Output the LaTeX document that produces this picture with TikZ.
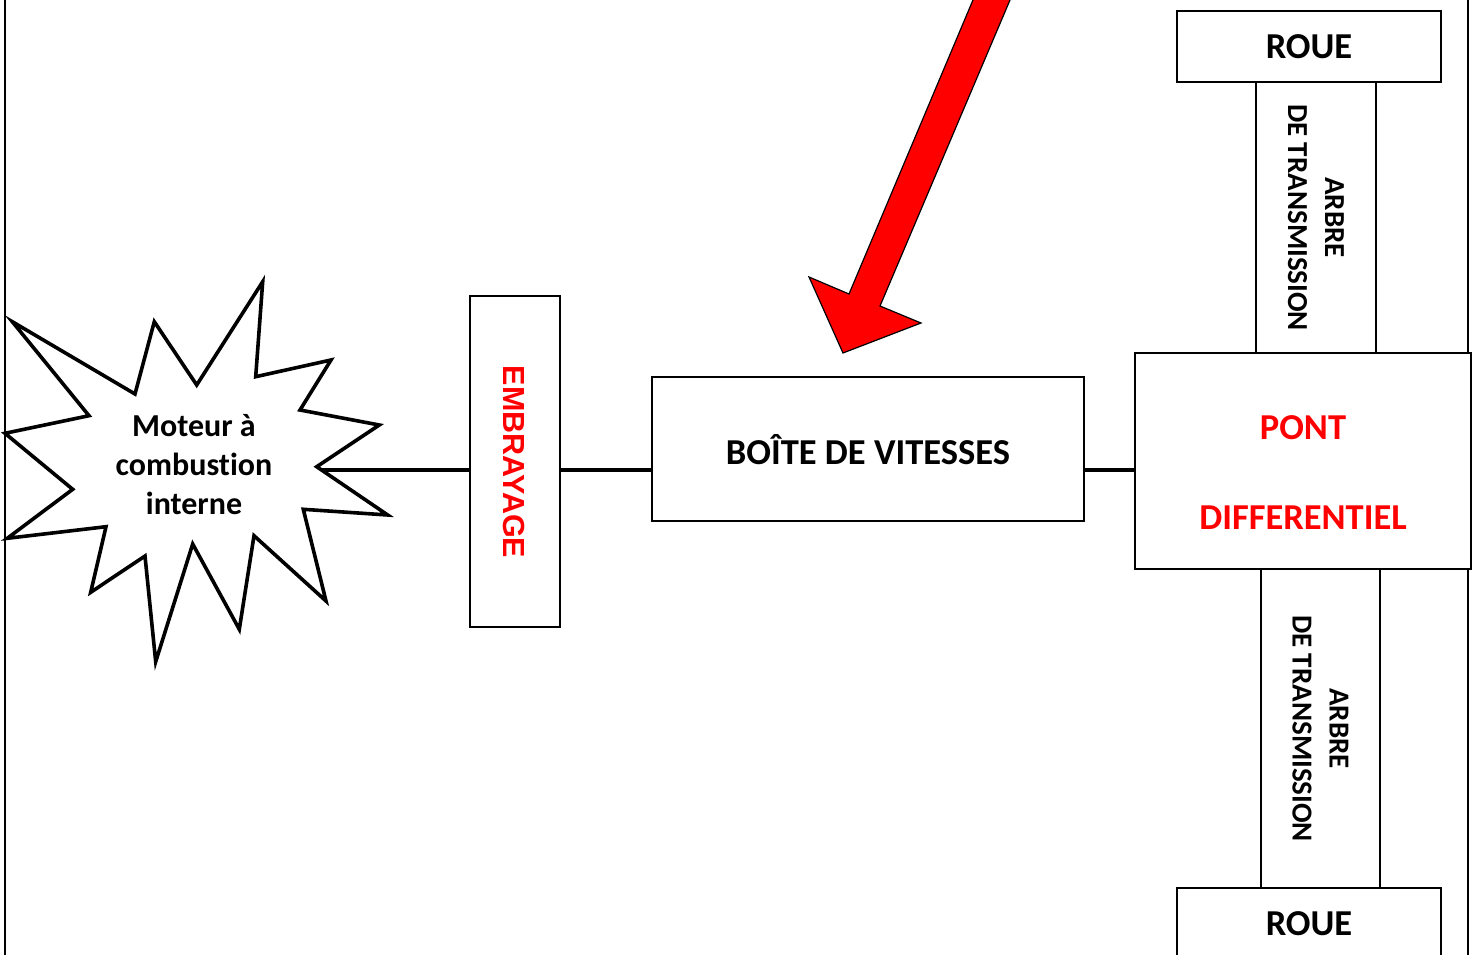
\documentclass[tikz,border=0pt]{standalone}
\usepackage{fontspec}
\setmainfont{Carlito}[Ligatures=CommonOff]
\newfontfamily\arialfont{Liberation Sans}
\definecolor{pured}{RGB}{255,0,0}
\begin{document}
\begin{tikzpicture}[x=1pt,y=-1pt,
  box/.style={draw=black,line width=1.6pt,rectangle,inner sep=0pt,fill=white},
  bigtxt/.style={font=\bfseries\fontsize{36.5}{44}\selectfont},
  shafttxt/.style={font=\bfseries\fontsize{29}{37}\selectfont,align=center},
  conn/.style={line width=4pt,black},
  border/.style={line width=1.6pt,black}]
\useasboundingbox (0,0) rectangle (1480,955);
% side border lines
\draw[border] (5,-5) -- (5,960);
\draw[border] (1468,-5) -- (1468,960);
% connectors
\coordinate (starpt) at (317,470);
\node[box,minimum width=90pt,minimum height=331pt] (embr) at (515,461.5) {};
\node[box,minimum width=432pt,minimum height=144pt] (boite) at (868,449) {};
\node[box,minimum width=336pt,minimum height=216pt] (pont) at (1303,461) {};
\draw[conn] (starpt) -- (starpt -| embr.west);
\draw[conn] (embr.east |- starpt) -- (starpt -| boite.west);
\draw[conn] (boite.east |- starpt) -- (starpt -| pont.west);
\node[box,minimum width=90pt,minimum height=331pt] at (515,461.5) {};
\node[box,minimum width=432pt,minimum height=144pt] at (868,449) {};
\node[box,minimum width=336pt,minimum height=216pt] at (1303,461) {};
% texts in boxes
\node[font=\arialfont\bfseries\fontsize{30.5}{34}\selectfont,text=pured,rotate=-90] (embrtxt) at (514,462) {EMBRAYAGE};
\node[bigtxt] (boitetxt) at (868,450) {BOÎTE DE VITESSES};
\node[bigtxt,text=pured] (ponttxt) at (1303,428) {PONT};
\node[bigtxt,text=pured] (difftxt) at (1303,518) {DIFFERENTIEL};
% wheels and shafts
\node[box,minimum width=264pt,minimum height=71pt,bigtxt] (roue1) at (1309,46.5) {ROUE};
\node[box,minimum width=271pt,minimum height=120pt,shafttxt,rotate=-90] (arbre1) at (1316,217.5) {ARBRE\\DE TRANSMISSION};
\node[box,minimum width=319pt,minimum height=119pt,shafttxt,rotate=-90] (arbre2) at (1320.5,728.5) {ARBRE\\DE TRANSMISSION};
\node[box,minimum width=264pt,minimum height=71pt,bigtxt] (roue2) at (1309,923.5) {ROUE};
% star (engine)
\draw[line width=3.6pt,line join=miter,fill=white]
  (12.3,321.7) -- (135,394) -- (154.3,321.7) -- (196.7,385) -- (262.7,281.7)
  -- (255.7,376.7) -- (331,360) -- (300,410) -- (379.3,425) -- (316.7,466.7)
  -- (387.7,515) -- (303.3,509.3) -- (326,601) -- (254,535.7) -- (239.3,629.3)
  -- (192.7,544) -- (155.7,661.7) -- (145,556) -- (90.7,592.3) -- (106,526.7)
  -- (7.3,538.3) -- (72.7,489.3) -- (5,433.3) -- (89,415.7) -- cycle;
\node[font=\bfseries\fontsize{32}{39}\selectfont,align=center] (moteur) at (194,465) {Moteur à\\combustion\\interne};
% red arrow
\begin{scope}
\clip (0,0) rectangle (1480,955);
\draw[line width=1.2pt,fill=pured,line join=miter]
  (981.4,-20) -- (849,294) -- (809,277) -- (843,353) -- (921,323) -- (880,306) -- (1018.5,-20) -- cycle;
\end{scope}
\end{tikzpicture}
\end{document}
